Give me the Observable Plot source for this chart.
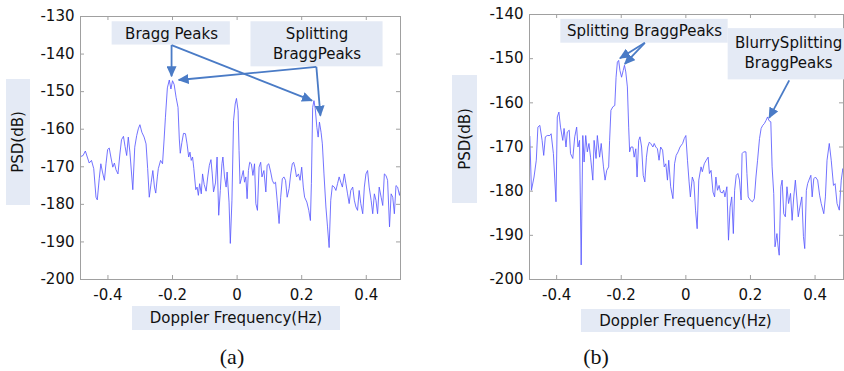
<!DOCTYPE html>
<html><head><meta charset="utf-8">
<script src="https://cdn.jsdelivr.net/npm/d3@7"></script>
<script src="https://cdn.jsdelivr.net/npm/@observablehq/plot@0.6"></script>
<style>
html,body{margin:0;padding:0;background:#fff;}
#wrap{position:relative;width:844px;height:371px;overflow:hidden;font-family:"DejaVu Sans",sans-serif;background:#fff;}
.panel{position:absolute;top:0;}
.lbl{position:absolute;background:#e4eaf5;color:#111;font-size:15px;display:flex;align-items:center;justify-content:center;white-space:nowrap;}
.lbl.rot span{transform:rotate(-90deg);display:block;}
.cap{position:absolute;font-family:"Liberation Serif","Times New Roman",serif;font-size:22px;transform:translate(-50%,-50%);color:#111;}
</style></head><body><div id="wrap"></div>
<script>
// ---------- data: panel (a) ----------
const freqA = [-0.485,-0.477,-0.470,-0.464,-0.458,-0.451,-0.444,-0.437,-0.433,-0.427,-0.422,-0.417,-0.411,-0.406,-0.401,-0.396,-0.391,-0.385,-0.380,-0.375,-0.369,-0.363,-0.358,-0.352,-0.347,-0.342,-0.337,-0.332,-0.323,-0.317,-0.311,-0.306,-0.301,-0.295,-0.288,-0.282,-0.277,-0.272,-0.266,-0.261,-0.256,-0.252,-0.247,-0.244,-0.237,-0.231,-0.226,-0.222,-0.216,-0.210,-0.205,-0.200,-0.195,-0.189,-0.183,-0.179,-0.176,-0.171,-0.166,-0.160,-0.155,-0.150,-0.146,-0.142,-0.138,-0.134,-0.128,-0.124,-0.120,-0.116,-0.111,-0.107,-0.102,-0.096,-0.091,-0.086,-0.081,-0.077,-0.073,-0.067,-0.062,-0.057,-0.052,-0.047,-0.044,-0.039,-0.034,-0.031,-0.025,-0.021,-0.016,-0.011,-0.006,-0.002,0.003,0.006,0.009,0.013,0.019,0.023,0.027,0.031,0.035,0.039,0.044,0.049,0.054,0.058,0.063,0.068,0.073,0.077,0.083,0.089,0.093,0.098,0.104,0.109,0.114,0.119,0.124,0.130,0.135,0.140,0.145,0.150,0.155,0.161,0.166,0.171,0.175,0.179,0.184,0.190,0.195,0.200,0.205,0.209,0.216,0.222,0.227,0.230,0.234,0.238,0.242,0.247,0.251,0.255,0.260,0.264,0.269,0.275,0.280,0.285,0.290,0.295,0.301,0.306,0.311,0.316,0.321,0.326,0.332,0.337,0.342,0.347,0.352,0.358,0.363,0.368,0.373,0.378,0.383,0.389,0.394,0.399,0.404,0.409,0.415,0.420,0.425,0.430,0.435,0.440,0.446,0.451,0.456,0.461,0.466,0.472,0.477,0.482,0.487,0.492,0.497,0.503,0.506];
const psdA = [-167.3,-167.0,-165.8,-167.4,-169.0,-168.3,-170.5,-178.1,-178.8,-173.2,-169.2,-171.4,-173.6,-169.2,-165.4,-165.0,-167.4,-170.1,-169.0,-170.8,-171.9,-166.6,-162.8,-161.9,-164.6,-167.0,-162.1,-166.1,-176.1,-164.8,-161.7,-159.9,-158.8,-160.8,-162.1,-163.9,-170.5,-178.1,-174.1,-171.0,-175.4,-177.0,-172.7,-170.5,-168.3,-169.2,-162.6,-156.8,-149.0,-146.9,-149.3,-147.1,-148.1,-151.5,-154.2,-162.6,-166.4,-163.5,-161.1,-161.2,-163.9,-167.4,-166.1,-168.3,-167.4,-170.5,-176.1,-175.4,-177.6,-174.5,-177.2,-171.9,-174.7,-176.5,-172.7,-169.6,-168.1,-171.9,-176.7,-174.3,-167.4,-182.9,-176.3,-169.2,-167.4,-172.7,-175.4,-171.4,-179.4,-190.4,-178.9,-157.7,-153.3,-151.8,-155.0,-165.7,-174.5,-173.2,-171.0,-174.1,-172.7,-178.5,-171.0,-168.8,-169.2,-172.3,-169.2,-179.8,-181.6,-170.1,-168.8,-172.7,-171.0,-176.7,-169.6,-169.2,-171.4,-173.6,-174.5,-174.1,-178.9,-185.1,-178.1,-173.2,-172.7,-173.6,-178.1,-175.8,-171.9,-169.2,-168.8,-170.1,-172.7,-171.9,-173.6,-170.1,-175.4,-178.1,-179.4,-181.6,-184.3,-174.5,-154.2,-152.4,-154.6,-159.5,-162.1,-158.1,-160.8,-163.9,-171.9,-180.7,-186.0,-191.5,-178.9,-175.0,-175.4,-176.3,-174.5,-172.7,-174.1,-175.4,-171.9,-174.5,-177.2,-179.8,-176.3,-175.4,-178.9,-180.7,-181.6,-176.3,-179.8,-182.5,-175.4,-171.9,-171.0,-175.4,-178.9,-182.5,-177.2,-178.9,-182.5,-175.4,-178.1,-180.3,-171.9,-172.3,-173.6,-186.0,-177.2,-178.1,-182.5,-175.0,-175.4,-177.6,-176.3];

// ---------- data: panel (b) ----------
const freqB = [-0.483,-0.478,-0.470,-0.463,-0.458,-0.452,-0.445,-0.440,-0.435,-0.429,-0.421,-0.417,-0.410,-0.402,-0.398,-0.393,-0.388,-0.381,-0.377,-0.371,-0.367,-0.361,-0.357,-0.350,-0.344,-0.338,-0.334,-0.329,-0.324,-0.319,-0.315,-0.310,-0.305,-0.300,-0.295,-0.288,-0.284,-0.278,-0.274,-0.267,-0.262,-0.255,-0.250,-0.245,-0.239,-0.236,-0.232,-0.226,-0.220,-0.216,-0.212,-0.208,-0.204,-0.199,-0.194,-0.190,-0.186,-0.181,-0.177,-0.174,-0.170,-0.164,-0.160,-0.155,-0.151,-0.146,-0.142,-0.137,-0.132,-0.127,-0.122,-0.118,-0.113,-0.109,-0.102,-0.098,-0.093,-0.088,-0.083,-0.078,-0.072,-0.067,-0.062,-0.057,-0.053,-0.047,-0.040,-0.035,-0.030,-0.024,-0.018,-0.010,-0.005,0.000,0.005,0.010,0.014,0.020,0.025,0.030,0.035,0.040,0.047,0.051,0.057,0.063,0.069,0.073,0.078,0.084,0.089,0.093,0.098,0.103,0.107,0.113,0.117,0.121,0.127,0.132,0.137,0.142,0.147,0.151,0.156,0.161,0.166,0.171,0.174,0.179,0.186,0.189,0.193,0.199,0.206,0.212,0.217,0.222,0.228,0.233,0.238,0.243,0.248,0.253,0.257,0.263,0.267,0.272,0.276,0.282,0.285,0.289,0.294,0.298,0.303,0.308,0.313,0.318,0.324,0.329,0.334,0.339,0.344,0.348,0.353,0.359,0.364,0.368,0.373,0.377,0.381,0.387,0.391,0.396,0.401,0.408,0.414,0.419,0.427,0.432,0.437,0.444,0.450,0.457,0.462,0.468,0.475,0.481,0.486,0.490];
const psdB = [-167.6,-179.8,-176.8,-173.0,-165.5,-165.1,-168.5,-171.9,-167.7,-167.4,-167.4,-167.0,-171.5,-182.4,-163.2,-162.1,-165.5,-168.5,-165.8,-170.0,-166.6,-166.2,-171.5,-172.6,-167.7,-165.5,-170.0,-168.5,-196.7,-167.4,-173.4,-167.4,-171.1,-169.2,-172.3,-177.5,-168.5,-172.6,-167.4,-172.3,-169.2,-174.5,-177.5,-175.3,-174.5,-168.5,-161.7,-160.9,-160.6,-154.2,-150.8,-150.4,-152.7,-154.2,-152.7,-151.5,-153.0,-156.4,-165.5,-171.1,-170.0,-170.0,-172.3,-170.4,-176.8,-168.5,-167.7,-170.0,-176.4,-177.9,-172.3,-170.0,-168.9,-169.2,-170.0,-169.2,-170.0,-170.4,-173.0,-170.0,-170.7,-174.5,-173.8,-177.5,-173.0,-179.0,-181.7,-173.8,-171.9,-171.1,-170.0,-169.2,-168.1,-167.4,-173.0,-177.9,-181.3,-176.8,-177.9,-184.3,-188.5,-177.5,-174.5,-175.6,-173.8,-173.0,-172.3,-176.0,-175.3,-180.2,-181.3,-176.8,-179.8,-178.7,-180.2,-180.4,-179.8,-181.3,-179.0,-191.1,-183.6,-181.3,-189.6,-179.8,-176.4,-176.0,-177.5,-182.0,-171.5,-171.1,-171.1,-176.0,-181.3,-182.0,-182.4,-181.7,-176.8,-173.0,-168.1,-165.8,-165.1,-164.7,-164.0,-163.2,-164.0,-164.3,-174.5,-180.5,-192.6,-189.6,-192.2,-194.5,-179.0,-177.5,-185.1,-185.8,-179.0,-182.8,-180.5,-186.6,-181.3,-177.5,-182.0,-185.8,-183.6,-181.3,-190.3,-193.0,-179.8,-178.3,-177.5,-176.4,-181.3,-177.2,-176.8,-177.5,-180.9,-182.8,-185.1,-181.3,-173.0,-169.2,-173.0,-178.7,-178.3,-182.8,-184.3,-177.5,-174.9,-176.0];

// ---------- ticks ----------
const xTicks = [-0.4, -0.2, 0, 0.2, 0.4];
const xTickLabels = ["-0.4", "-0.2", "0", "0.2", "0.4"];
const yTicksA = [-200, -190, -180, -170, -160, -150, -140, -130];
const yTickLabelsA = ["-200", "-190", "-180", "-170", "-160", "-150", "-140", "-130"];
const yTicksB = [-200, -190, -180, -170, -160, -150, -140];
const yTickLabelsB = ["-200", "-190", "-180", "-170", "-160", "-150", "-140"];

// ---------- annotations (data units) ----------
const boxesA = [
  {x1: -0.387, x2: -0.021, y1: -131.4, y2: -137.6},
  {x1: 0.043, x2: 0.452, y1: -131.4, y2: -143.4}
];
const textsA = [
  {x: -0.203, y: -134.6, t: "Bragg Peaks"},
  {x: 0.2475, y: -134.6, t: "Splitting"},
  {x: 0.2475, y: -139.9, t: "BraggPeaks"}
];
const arrowsA = [
  {x1: -0.203, y1: -137.6, x2: -0.203, y2: -145.9},
  {x1: -0.203, y1: -137.6, x2: 0.232, y2: -152.4},
  {x1: 0.2455, y1: -143.4, x2: -0.181, y2: -146.9},
  {x1: 0.2455, y1: -143.4, x2: 0.258, y2: -156.4}
];
const boxesB = [
  {x1: -0.387, x2: 0.131, y1: -141.1, y2: -146.5},
  {x1: 0.131, x2: 0.5, y1: -143.2, y2: -154.8}
];
const textsB = [
  {x: -0.128, y: -143.8, t: "Splitting BraggPeaks"},
  {x: 0.318, y: -146.6, t: "BlurrySplitting"},
  {x: 0.318, y: -151.1, t: "BraggPeaks"}
];
const arrowsB = [
  {x1: -0.127, y1: -146.4, x2: -0.204, y2: -149.9},
  {x1: -0.127, y1: -146.4, x2: -0.189, y2: -151.2},
  {x1: 0.320, y1: -154.9, x2: 0.258, y2: -163.4}
];

const LINE = "#5a5aff", ARROW = "#4a7bc6", BOX = "#e4eaf5", FRAME = "#a0a0a0";

function panel({freq, psd, yTicks, yLabels, xDomain, yDomain, boxes, texts, arrows, width, height, mL, mR, mT, mB, id}) {
  const data = freq.map((f, i) => ({f, v: psd[i]}));
  const pw = width - mL - mR, ph = height - mT - mB;
  const svg = Plot.plot({
    width, height, marginLeft: mL, marginRight: mR, marginTop: mT, marginBottom: mB,
    style: {fontFamily: "DejaVu Sans, sans-serif", fontSize: "15px", color: "#111", background: "transparent", overflow: "visible"},
    x: {domain: xDomain, label: null},
    y: {domain: yDomain, label: null},
    marks: [
      Plot.line(data, {x: "f", y: "v", stroke: LINE, strokeWidth: 0.85, clip: true}),
      Plot.frame({stroke: FRAME}),
      Plot.tickY(yTicks, {y: d => d, insetRight: pw - 4, stroke: FRAME}),
      Plot.tickY(yTicks, {y: d => d, insetLeft: pw - 4, stroke: FRAME}),
      Plot.tickX(xTicks, {x: d => d, insetBottom: ph - 4, stroke: FRAME}),
      Plot.tickX(xTicks, {x: d => d, insetTop: ph - 4, stroke: FRAME}),
      Plot.axisY(yTicks, {tickSize: 0, tickPadding: 6, tickFormat: d => yLabels[yTicks.indexOf(d)], fontSize: 15, fill: "#111"}),
      Plot.axisX(xTicks, {tickSize: 0, tickPadding: 10, tickFormat: d => xTickLabels[xTicks.indexOf(d)], fontSize: 15, fill: "#111"}),
      Plot.rect(boxes, {x1: "x1", x2: "x2", y1: "y1", y2: "y2", fill: BOX}),
      Plot.text(texts, {x: "x", y: "y", text: "t", fontSize: 15, fill: "#111"}),
      Plot.link(arrows, {x1: "x1", y1: "y1", x2: "x2", y2: "y2", stroke: ARROW, strokeWidth: 1.8})
    ]
  });
  // filled arrowheads
  const ns = "http://www.w3.org/2000/svg";
  const defs = document.createElementNS(ns, "defs");
  const marker = document.createElementNS(ns, "marker");
  marker.setAttribute("id", "ah" + id);
  marker.setAttribute("viewBox", "0 0 11 10");
  marker.setAttribute("refX", "10");
  marker.setAttribute("refY", "5");
  marker.setAttribute("markerWidth", "11");
  marker.setAttribute("markerHeight", "10");
  marker.setAttribute("markerUnits", "userSpaceOnUse");
  marker.setAttribute("orient", "auto");
  const p = document.createElementNS(ns, "path");
  p.setAttribute("d", "M0,0L11,5L0,10Z");
  p.setAttribute("fill", ARROW);
  marker.appendChild(p);
  defs.appendChild(marker);
  svg.insertBefore(defs, svg.firstChild);
  svg.querySelectorAll('g[aria-label="link"] path').forEach(el => el.setAttribute("marker-end", `url(#ah${id})`));
  return svg;
}

const wrap = document.getElementById("wrap");

const svgA = panel({freq: freqA, psd: psdA, yTicks: yTicksA, yLabels: yTickLabelsA,
  xDomain: [-0.485, 0.506], yDomain: [-200, -130], boxes: boxesA, texts: textsA, arrows: arrowsA,
  width: 420, height: 310, mL: 80, mR: 20, mT: 16, mB: 31, id: "A"});
svgA.classList.add("panel"); svgA.style.left = "0px";
wrap.appendChild(svgA);

const svgB = panel({freq: freqB, psd: psdB, yTicks: yTicksB, yLabels: yTickLabelsB,
  xDomain: [-0.484, 0.488], yDomain: [-200, -140], boxes: boxesB, texts: textsB, arrows: arrowsB,
  width: 424, height: 310, mL: 109, mR: 1, mT: 14, mB: 31, id: "B"});
svgB.classList.add("panel"); svgB.style.left = "420px";
wrap.appendChild(svgB);

// axis titles and captions
function lbl(text, l, t, w, h, rot) {
  const d = document.createElement("div");
  d.className = "lbl" + (rot ? " rot" : "");
  Object.assign(d.style, {left: l + "px", top: t + "px", width: w + "px", height: h + "px"});
  const s = document.createElement("span"); s.textContent = text; d.appendChild(s);
  wrap.appendChild(d);
}
lbl("PSD(dB)", 6, 79, 24, 126, true);
lbl("PSD(dB)", 452, 75, 25, 128, true);
lbl("Doppler Frequency(Hz)", 132, 306, 208, 24, false);
lbl("Doppler Frequency(Hz)", 581, 309, 209, 23, false);
function cap(text, x, y) {
  const d = document.createElement("div"); d.className = "cap"; d.textContent = text;
  Object.assign(d.style, {left: x + "px", top: y + "px"}); wrap.appendChild(d);
}
cap("(a)", 232, 357);
cap("(b)", 596, 357);
</script></body></html>
